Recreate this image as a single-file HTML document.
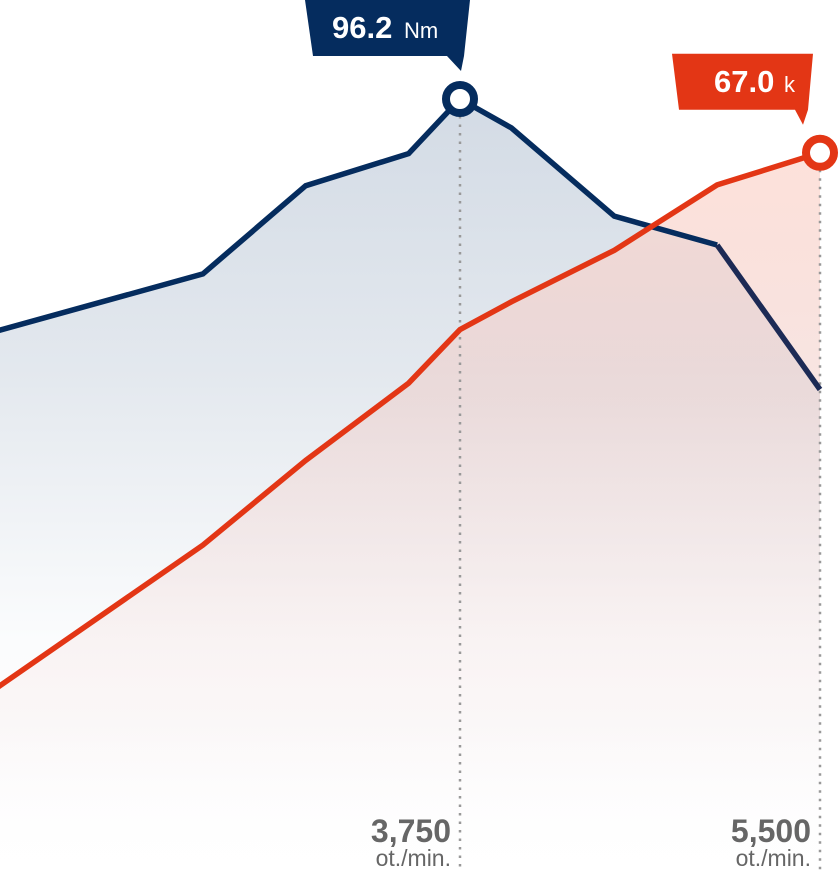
<!DOCTYPE html>
<html><head><meta charset="utf-8"><style>
html,body{margin:0;padding:0;background:#fff;}
svg{display:block;font-family:"Liberation Sans",sans-serif;}
</style></head><body>
<svg id="chart" width="840" height="871" viewBox="0 0 840 871">
<defs>
<linearGradient id="gBlue" x1="0" y1="0" x2="0" y2="1"><stop offset="0" stop-color="#d3dbe5"/><stop offset="0.35" stop-color="#e3e8ee"/><stop offset="0.7" stop-color="#fbfcfd"/><stop offset="1" stop-color="#ffffff"/></linearGradient>
<linearGradient id="gRed" x1="0" y1="0" x2="0" y2="1"><stop offset="0" stop-color="#fddcd4" stop-opacity="0.85"/><stop offset="0.35" stop-color="#f0c8c2" stop-opacity="0.45"/><stop offset="0.8" stop-color="#f6eaea" stop-opacity="0.3"/><stop offset="1" stop-color="#ffffff" stop-opacity="0"/></linearGradient>
</defs>
<g id="fills"></g><g id="grid"></g><g id="lines"></g><g id="marks"></g>
</svg>
<script>
const rpm = [1500, 2500, 3000, 3500, 3750, 4000, 4500, 5000, 5500];
const torque = [67.3, 74.4, 85.4, 89.4, 96.2, 92.6, 81.6, 78.0, 60.0];
const power = [17.1, 30.4, 38.3, 45.5, 50.5, 53.1, 57.9, 64.0, 67.0];
const tickRpm = [3750, 5500];
const tickLabels = ["3,750", "5,500"];
const torqueLabel = "96.2";
const powerLabel = "67.0";

const NS = "http://www.w3.org/2000/svg";
function x(r){return 460 + (r - 3750) * (360 / 1750);}
function yT(v){return 871 - v * 8.025;}
function yP(v){return 871 - v * 10.72;}
function mk(tag, attrs, parent){const e=document.createElementNS(NS,tag);for(const k in attrs)e.setAttribute(k,attrs[k]);parent.appendChild(e);return e;}
const fills=document.getElementById('fills'), lines=document.getElementById('lines'), grid=document.getElementById('grid'), marks=document.getElementById('marks');

function pts(arr, fy){return rpm.map((r,i)=>x(r).toFixed(1)+','+fy(arr[i]).toFixed(1)).join(' ');}
function area(arr, fy){return 'M'+x(rpm[0])+',871 L'+pts(arr,fy).split(' ').join(' L')+' L'+x(rpm[rpm.length-1])+',871 Z';}

const fb = mk('path',{d:area(torque,yT),fill:'url(#gBlue)'},fills);


const fr = mk('path',{d:area(power,yP),fill:'url(#gRed)'},fills);



tickRpm.forEach((r,i)=>{
  const yTop = i===0 ? yT(torque[rpm.indexOf(r)]) : yP(power[rpm.indexOf(r)]);
  const gl = mk('line',{x1:x(r),x2:x(r),y1:yTop,y2:871,stroke:'#999','stroke-width':2.5,'stroke-dasharray':'2.5,6'},grid);
  
  
  const t = mk('text',{x:x(r)-9,y:842,'text-anchor':'end','font-size':32,'font-weight':'bold',fill:'#666'},grid);
  t.textContent = tickLabels[i];
  
  
  const u = mk('text',{x:x(r)-9,y:866,'text-anchor':'end','font-size':23,fill:'#666'},grid);
  u.textContent = 'ot./min.';
  
  
});

const lb = mk('polyline',{points:pts(torque.slice(0,8),yT).split(' ').slice(0,8).join(' '),fill:'none',stroke:'#052c5e','stroke-width':5.5},lines);


const lb2 = mk('line',{x1:x(rpm[7]),y1:yT(torque[7]),x2:x(rpm[8]),y2:yT(torque[8]),stroke:'#1c2a55','stroke-width':5.5},lines);


const lr = mk('polyline',{points:pts(power,yP),fill:'none',stroke:'#e33615','stroke-width':5.5},lines);



const ti = torque.indexOf(Math.max(...torque));
const tx = x(rpm[ti]), ty = yT(torque[ti]);
const c1 = mk('circle',{cx:tx,cy:ty,r:14,fill:'#fff',stroke:'#052c5e','stroke-width':8},marks);


const b1 = mk('path',{d:`M${tx-155},0 L${tx+10},0 L${tx+4},${ty-43} L${tx+1},${ty-28} L${tx-13},${ty-43} L${tx-147},${ty-43} Z`,fill:'#052c5e'},marks);


const t1 = mk('text',{x:tx-128,y:38,'font-size':31,'font-weight':'bold',fill:'#fff'},marks);
t1.textContent = torqueLabel;


const u1 = mk('text',{x:tx-56,y:38,'font-size':22,fill:'#fff'},marks);
u1.textContent = 'Nm';



const pi = power.length-1;
const px = x(rpm[pi]), py = yP(power[pi]);
const c2 = mk('circle',{cx:px,cy:py,r:14,fill:'#fff',stroke:'#e33615','stroke-width':8},marks);


const b2 = mk('path',{d:`M${px-148},${py-99} L${px-7},${py-99} L${px-12},${py-43} L${px-17},${py-28} L${px-25},${py-43} L${px-141},${py-43} Z`,fill:'#e33615'},marks);


const t2 = mk('text',{x:px-106,y:py-61,'font-size':31,'font-weight':'bold',fill:'#fff'},marks);
t2.textContent = powerLabel;


const u2 = mk('text',{x:px-36,y:py-61,'font-size':22,fill:'#fff'},marks);
u2.textContent = 'k';


</script>
</body></html>
